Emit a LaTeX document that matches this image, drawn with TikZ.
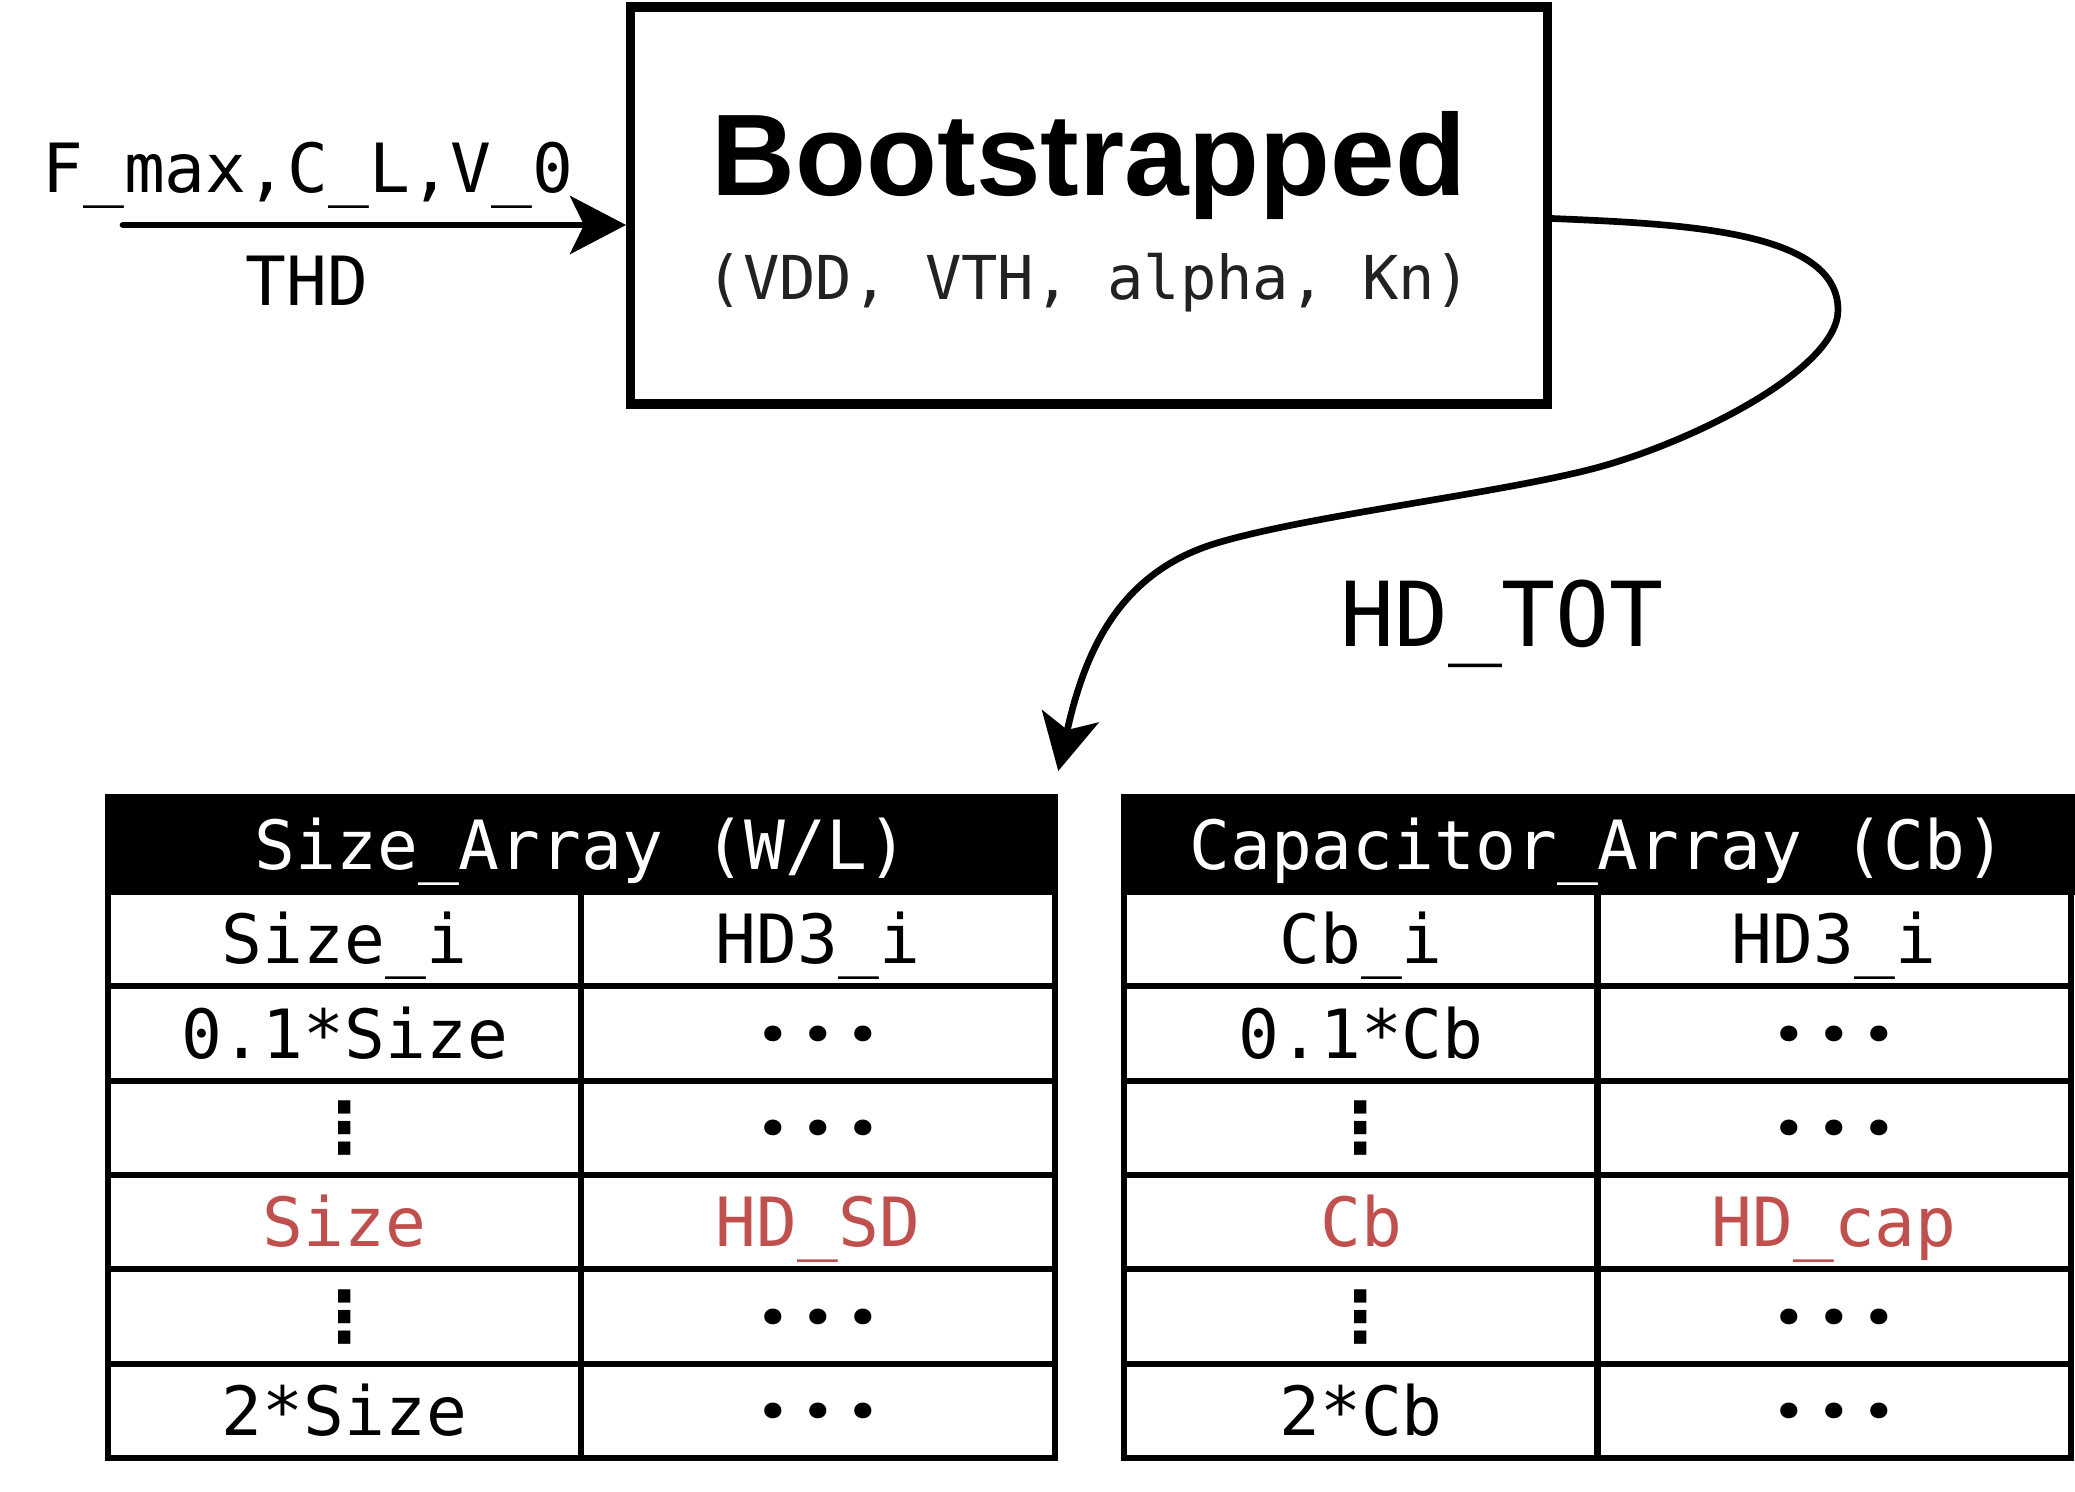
\documentclass[tikz,border=0pt]{standalone}
\usepackage{fontspec}
\setmainfont{DejaVu Sans Mono}
\newfontfamily\monof{DejaVu Sans Mono}
\newfontfamily\titlef{Liberation Sans}
\newfontfamily\dvsf{DejaVu Sans}
\newfontfamily\dotf[LetterSpace=23]{Poppins}
\usetikzlibrary{arrows.meta,calc}
\definecolor{hdred}{HTML}{C0504D}
\definecolor{subgray}{HTML}{222222}
\begin{document}
\begin{tikzpicture}[x=0.01cm,y=-0.01cm,
  cell/.style={draw=black,line width=1.7pt,minimum width=4.73cm,minimum height=0.9433cm,inner sep=0pt,
    font=\monof\fontsize{19.3}{23}\selectfont,text height=0.49cm,text depth=0cm},
  hdr/.style={draw=black,fill=black,line width=1.7pt,minimum width=9.47cm,minimum height=0.95cm,inner sep=0pt,
    text=white,font=\monof\fontsize{19.3}{23}\selectfont,text height=0.49cm,text depth=0cm},
  hot/.style={text=hdred},
  vd/.style={font=\dvsf\bfseries\fontsize{20}{24}\selectfont},
  hd/.style={font=\dotf\bfseries\fontsize{24}{28}\selectfont,text height=0.53cm},
  lbl/.style={inner sep=0pt,font=\monof\fontsize{19.3}{23}\selectfont,text height=0.49cm,text depth=0cm},
  tip/.style={-{Stealth[length=0.56cm,width=0.58cm,inset=0.14cm]}},
  conn/.style={line width=1.9pt,tip},
]
\useasboundingbox (0,0) rectangle (2075,1492);

% Bootstrapped block
\node[draw=black,line width=2.65pt,minimum width=9.16cm,minimum height=3.97cm,inner sep=0pt] (boot) at (1089,205.5) {};
\node[inner sep=0pt,font=\titlef\bfseries\fontsize{33}{38}\selectfont,text height=0.83cm,text depth=0cm] (btitle) at (1089,154) {Bootstrapped};
\node[inner sep=0pt,text=subgray,font=\monof\fontsize{17.2}{20}\selectfont] (bsub) at (1089,283) {(VDD, VTH, alpha, Kn)};

% input arrow
\coordinate (in) at (123,225);
\draw[line width=1.9pt,line cap=round,tip] (in) -- (in -| boot.west);
\node[lbl] (inlab) at (308,168) {F\_max,C\_L,V\_0};
\node[lbl] (thd) at (307,281) {THD};

% left table
\node[hdr] (L0) at (581.5,844.5) {Size\_Array (W/L)};
\node[cell] (La1) at (344.5,939.2) {Size\_i};
\node[cell] (Lb1) at (818,939.2) {HD3\_i};
\node[cell] (La2) at (344.5,1033.5) {0.1*Size};
\node[cell,hd] (Lb2) at (818,1033.5) {···};
\node[cell,vd] (La3) at (344.5,1127.8) {⋮};
\node[cell,hd] (Lb3) at (818,1127.8) {···};
\node[cell,hot] (La4) at (344.5,1222.2) {Size};
\node[cell,hot] (Lb4) at (818,1222.2) {HD\_SD};
\node[cell,vd] (La5) at (344.5,1316.5) {⋮};
\node[cell,hd] (Lb5) at (818,1316.5) {···};
\node[cell] (La6) at (344.5,1410.8) {2*Size};
\node[cell,hd] (Lb6) at (818,1410.8) {···};

% right table
\node[hdr] (R0) at (1598,844.5) {Capacitor\_Array (Cb)};
\node[cell] (Ra1) at (1361,939.2) {Cb\_i};
\node[cell] (Rb1) at (1834,939.2) {HD3\_i};
\node[cell] (Ra2) at (1361,1033.5) {0.1*Cb};
\node[cell,hd] (Rb2) at (1834,1033.5) {···};
\node[cell,vd] (Ra3) at (1361,1127.8) {⋮};
\node[cell,hd] (Rb3) at (1834,1127.8) {···};
\node[cell,hot] (Ra4) at (1361,1222.2) {Cb};
\node[cell,hot] (Rb4) at (1834,1222.2) {HD\_cap};
\node[cell,vd] (Ra5) at (1361,1316.5) {⋮};
\node[cell,hd] (Rb5) at (1834,1316.5) {···};
\node[cell] (Ra6) at (1361,1410.8) {2*Cb};
\node[cell,hd] (Rb6) at (1834,1410.8) {···};

% feedback curve
\coordinate (S) at ([yshift=-0.13cm]boot.east);
\coordinate (T) at ([yshift=0.23cm]L0.north east);
\draw[conn] (S) .. controls (1680,224) and (1838,230) .. (1838,310)
  .. controls (1838,370) and (1688,445) .. (1588,470)
  .. controls (1488,495) and (1307,516) .. (1217,543)
  .. controls (1120,572) and (1085,650) .. (T);
\node[inner sep=0pt,font=\monof\fontsize{25.5}{30}\selectfont,text height=0.64cm,text depth=0cm] (hdtot) at (1502,614) {HD\_TOT};
\end{tikzpicture}
\end{document}
